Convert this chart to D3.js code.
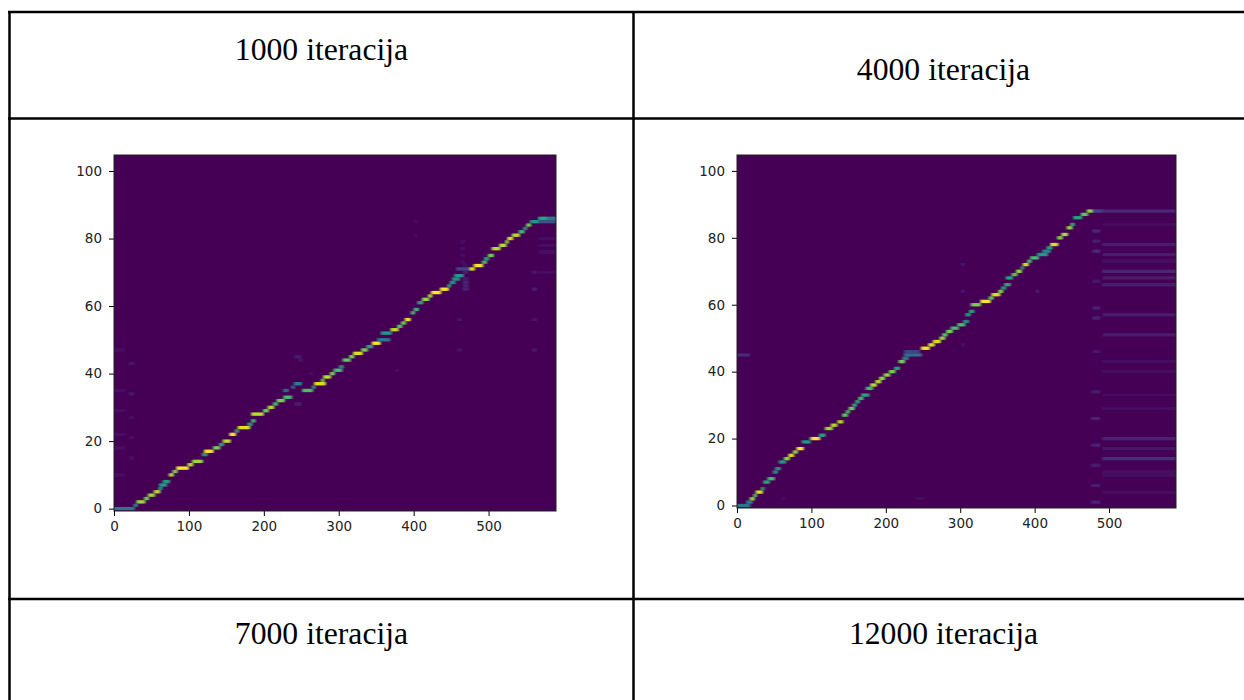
<!DOCTYPE html>
<html>
<head>
<meta charset="utf-8">
<script src="https://cdn.jsdelivr.net/npm/d3@7"></script>
<style>
  html, body { margin: 0; padding: 0; background: white; overflow: hidden; }
  svg { display: block; }
</style>
</head>
<body>
<script>
var xTicks = [0, 100, 200, 300, 400, 500]
var yTicks = [0, 20, 40, 60, 80, 100]
var headerTop = ['1000 iteracija', '4000 iteracija']
var headerBottom = ['7000 iteracija', '12000 iteracija']

// ridge of the 1000 iterations panel: row, first x, last x, level
var rows1 = [0,1,2,3,4,5,6,7,8,10,11,12,13,14,16,17,18,19,20,22,23,24,25,26,28,29,30,31,32,33,35,36,37,35,36,37,38,39,40,41,42,44,45,46,47,48,49,50,52,53,54,55,56,58,59,61,62,63,64,65,66,67,68,69,71,71,72,73,74,75,77,78,79,80,81,82,83,84,85,86,86,85]
var xFrom1 = [0,27,31,41,46,54,60,61,66,74,79,84,99,105,118,121,133,141,146,155,162,166,179,184,184,200,206,213,218,227,227,237,241,252,265,268,277,280,289,294,301,306,315,320,331,338,345,352,357,370,379,384,389,397,401,406,412,420,424,436,446,449,452,455,457,475,481,492,495,500,505,515,523,526,532,541,547,551,556,567,578,567]
var xTo1 = [27,31,41,46,54,61,64,70,74,79,84,99,105,118,124,132,141,146,155,162,166,181,184,188,199,206,213,218,227,237,232,241,250,265,268,282,280,289,294,304,306,315,320,331,338,345,355,368,370,379,384,389,395,401,406,412,420,424,436,446,449,455,461,466,475,481,492,497,500,506,515,523,526,532,541,547,551,556,567,578,590,590]
var level1 = [.4,.45,.85,.8,.85,.9,.45,.55,.55,.9,.8,1,.9,.85,.55,1,.8,.6,.9,1,.6,.95,.55,.7,.9,.8,.9,.7,.8,.7,.4,.3,.45,.7,.6,.95,.8,.9,.8,.7,.5,.75,.8,.95,.8,.6,1,.4,.55,.9,.75,.8,1,.7,.7,.6,.85,.9,1,1,.6,.5,.5,.55,.2,.95,1,.7,.6,.8,.9,.9,.85,.95,.9,.7,.5,.8,.55,.6,.42,.25]

// faint specks of the same panel
var speckRows1 = [47,35,29,22,18,10,43,34,27,21,15,45,44,31,56,47,65,56,47,70,80,78,76,70,73,75,77,79,65,66,67,68,70,72,41,40,85,81]
var speckFrom1 = [0,0,0,0,0,0,20,20,20,20,20,241,246,241,458,458,558,558,558,558,567,567,567,567,462,462,462,462,466,466,466,466,466,466,375,260,400,400]
var speckTo1 = [15,15,15,15,15,15,27,27,27,27,27,250,252,250,464,464,565,565,565,565,590,590,590,590,468,468,468,468,473,473,473,473,473,473,380,266,405,405]
var speckLevel1 = [.04,.04,.04,.04,.04,.04,.06,.06,.04,.04,.04,.07,.05,.08,.05,.05,.08,.05,.05,.06,.04,.04,.04,.04,.04,.04,.04,.04,.1,.1,.1,.08,.08,.04,.03,.03,.03,.03]

// ridge of the 4000 iterations panel
var rows2 = [0,1,2,3,4,5,7,8,10,11,13,14,15,16,17,19,20,20,21,23,24,25,27,28,29,30,31,32,33,35,36,37,38,39,40,41,43,44,45,46,47,48,49,50,51,52,53,54,55,57,58,60,61,62,63,64,65,66,68,69,70,71,72,73,74,75,76,77,78,80,81,83,84,86,87,88,88]
var xFrom2 = [0,13,18,23,26,33,36,42,49,52,57,64,70,76,81,88,98,100,111,119,127,136,142,147,151,156,160,164,168,174,180,187,192,198,205,212,218,223,225,225,248,258,264,273,277,282,288,297,305,308,313,315,328,339,343,352,356,360,362,370,376,382,385,391,395,404,411,417,422,431,437,444,449,453,463,471,478]
var xTo2 = [17,20,23,26,34,36,43,50,54,58,65,70,76,81,89,98,100,111,118,128,134,142,148,151,157,160,164,169,177,182,187,193,198,205,212,218,225,230,248,245,258,265,273,279,282,289,297,306,311,313,318,327,340,344,353,357,361,367,370,376,382,385,391,395,405,417,421,423,431,437,444,450,453,463,471,478,491]
var level2 = [.4,.45,.85,.75,.95,.6,.6,.7,.5,.5,.55,.85,.95,.85,1,.55,.5,1,.6,.85,.9,.9,.75,.7,.8,.6,.6,.7,.6,.7,.9,.9,.85,.85,.8,.6,.8,.4,.36,.2,1,.95,.95,.85,.75,.8,.7,.7,.5,.55,.6,.8,1,.75,.95,.8,.55,.6,.6,.75,.85,.6,.95,.7,.7,.55,.45,.6,.95,.8,.9,.85,.6,.6,.75,.85,.2]

// flat stripes right of the end of the 4000 iterations ridge
var stripeRows2 = [88,84,78,75,73,70,68,66,57,51,43,40,33,29,20,17,14,10,9,4]
var stripeLevel2 = [.11,.02,.08,.07,.04,.11,.07,.08,.07,.07,.04,.04,.02,.04,.1,.05,.13,.04,.03,.03]
var stripeFrom2 = 491
var stripeTo2 = 590

// patches and specks of the same panel
var speckRows2 = [34,26,18,12,6,1,82,79,76,67,59,56,46,45,72,64,48,64,2,2]
var speckFrom2 = [476,476,476,476,476,476,478,478,478,478,478,478,478,0,301,301,301,401,60,240]
var speckTo2 = [488,488,488,488,488,488,488,488,488,488,488,488,488,17,306,306,306,406,65,252]
var speckLevel2 = [.07,.09,.09,.08,.07,.09,.11,.08,.12,.06,.09,.09,.06,.12,.06,.06,.04,.07,.03,.03]

function table(rows, from, to, level) {
  return rows.map(function(r, i) {
    return { row: r, x0: from[i], x1: to[i], v: level[i] }
  })
}

var specks2 = table(speckRows2, speckFrom2, speckTo2, speckLevel2)
var stripes2 = stripeRows2.map(function(r, i) {
  return { row: r, x0: stripeFrom2, x1: stripeTo2, v: stripeLevel2[i] }
})

var w = 1244
var h = 700

var svg = d3.select('body')
  .append('svg')
  .attr('width', w)
  .attr('height', h)

svg.append('rect')
  .attr('width', w)
  .attr('height', h)
  .attr('fill', 'white')

var defs = svg.append('defs')
defs.append('filter') // the picture in the table is a scaled bitmap, cells have soft edges
  .attr('id', 'soft')
  .attr('x', '-5%').attr('y', '-5%').attr('width', '110%').attr('height', '110%')
  .append('feGaussianBlur')
  .attr('stdDeviation', '0.95 0.6')

function panel(id, box, yDomain, cells) {
  var x = d3.scaleLinear().domain([0, 590]).range([box.left, box.right])
  var y = d3.scaleLinear().domain(yDomain).range([box.bottom, box.top])

  defs.append('clipPath')
    .attr('id', id)
    .append('rect')
    .attr('x', box.left)
    .attr('y', box.top)
    .attr('width', box.right - box.left)
    .attr('height', box.bottom - box.top)

  var g = svg.append('g').attr('clip-path', 'url(#' + id + ')')

  var art = g.append('g').attr('filter', 'url(#soft)')

  art.append('rect') // background goes under the blur too, so edges do not fade to nothing
    .attr('x', box.left - 10)
    .attr('y', box.top - 10)
    .attr('width', box.right - box.left + 20)
    .attr('height', box.bottom - box.top + 20)
    .attr('fill', d3.interpolateViridis(0))

  art.selectAll('rect.cell')
    .data(cells)
    .enter()
    .append('rect')
    .attr('class', 'cell')
    .attr('x', function(d) { return x(d.x0) })
    .attr('y', function(d) { return y(d.row + 0.5) })
    .attr('width', function(d) { return x(d.x1) - x(d.x0) })
    .attr('height', function(d) { return y(d.row - 0.5) - y(d.row + 0.5) })
    .attr('fill', function(d) { return d3.interpolateViridis(d.v) })

  var xAxis = svg.append('g')
    .attr('transform', 'translate(0,' + box.bottom + ')')
    .call(d3.axisBottom(x).tickValues(xTicks).tickSize(5).tickSizeOuter(0).tickPadding(5))
  var yAxis = svg.append('g')
    .attr('transform', 'translate(' + box.left + ',0)')
    .call(d3.axisLeft(y).tickValues(yTicks).tickSize(5).tickSizeOuter(0).tickPadding(7))

  svg.selectAll('.tick text')
    .attr('font-family', 'DejaVu Sans')
    .attr('font-size', '13.5px')
    .attr('fill', '#222')
  xAxis.select('.domain').remove()
  yAxis.select('.domain').remove()

  svg.append('rect') // frame
    .attr('x', box.left)
    .attr('y', box.top)
    .attr('width', box.right - box.left)
    .attr('height', box.bottom - box.top)
    .attr('fill', 'none')
    .attr('stroke', '#222')
    .attr('stroke-width', 1)
}

panel('p1', { left: 114, right: 556, top: 155, bottom: 511 }, [-0.7, 104.75],
  table(speckRows1, speckFrom1, speckTo1, speckLevel1).concat(table(rows1, xFrom1, xTo1, level1)))

panel('p2', { left: 737, right: 1176, top: 155, bottom: 508 }, [-0.75, 104.75],
  specks2.concat(stripes2, table(rows2, xFrom2, xTo2, level2)))

// table lines
var hLines = [12, 118.5, 599]
var vLines = [9.5, 633.5]

svg.selectAll('.hline')
  .data(hLines)
  .enter()
  .append('line')
  .attr('class', 'hline')
  .attr('x1', 8)
  .attr('x2', w)
  .attr('y1', function(d) { return d })
  .attr('y2', function(d) { return d })
  .attr('stroke', 'black')
  .attr('stroke-width', 2.5)

svg.selectAll('.vline')
  .data(vLines)
  .enter()
  .append('line')
  .attr('class', 'vline')
  .attr('x1', function(d) { return d })
  .attr('x2', function(d) { return d })
  .attr('y1', 11)
  .attr('y2', h)
  .attr('stroke', 'black')
  .attr('stroke-width', 2.5)

// header cells
var headerX = [321.5, 943.5]
var headerY = [60, 80]

svg.selectAll('.head')
  .data(headerTop)
  .enter()
  .append('text')
  .attr('class', 'head')
  .text(function(d) { return d })
  .attr('x', function(d, i) { return headerX[i] })
  .attr('y', function(d, i) { return headerY[i] })
  .attr('font-family', 'Liberation Serif')
  .attr('font-size', '31.7px')
  .attr('fill', 'black')
  .attr('text-anchor', 'middle')

svg.selectAll('.foot')
  .data(headerBottom)
  .enter()
  .append('text')
  .attr('class', 'foot')
  .text(function(d) { return d })
  .attr('x', function(d, i) { return headerX[i] })
  .attr('y', 644)
  .attr('font-family', 'Liberation Serif')
  .attr('font-size', '31.7px')
  .attr('fill', 'black')
  .attr('text-anchor', 'middle')
</script>
</body>
</html>
